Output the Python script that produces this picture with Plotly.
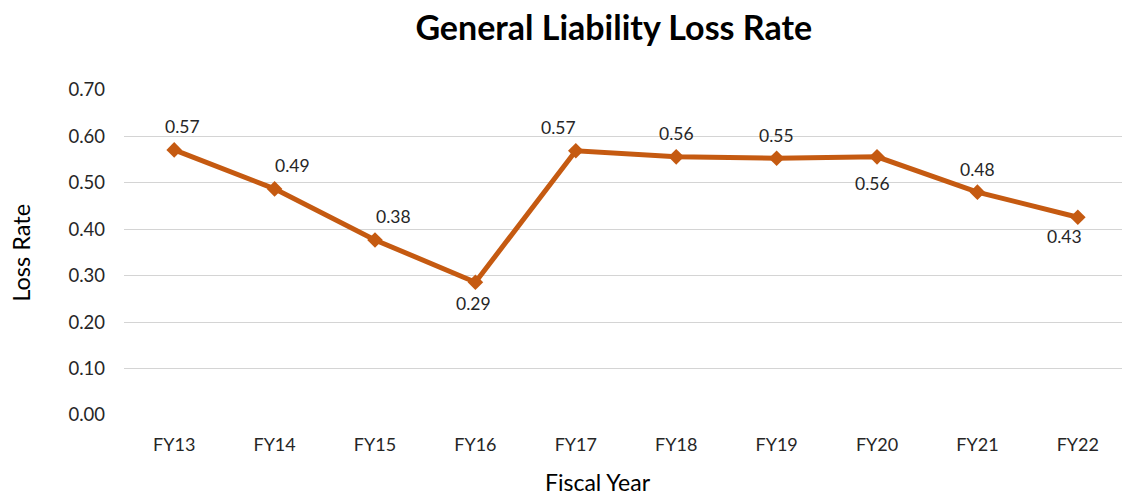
import plotly.graph_objects as go

categories = ["FY13", "FY14", "FY15", "FY16", "FY17", "FY18", "FY19", "FY20", "FY21", "FY22"]
loss_rate = [0.571, 0.487, 0.377, 0.286, 0.569, 0.556, 0.553, 0.556, 0.480, 0.426]
y_ticks = [0.0, 0.1, 0.2, 0.3, 0.4, 0.5, 0.6, 0.7]

# label placement (style): (xshift, yshift) in pixels
label_offsets = [(8, 23), (18, 23), (18, 23), (-2, -21), (-17, 23), (0, 23), (0, 23), (-5, -27), (0, 23), (-13, -19)]

FONT = "Lato, 'Open Sans', sans-serif"
LINE = "#C55A11"

fig = go.Figure()
fig.add_trace(go.Scatter(
    x=categories, y=loss_rate, mode="lines+markers",
    line=dict(color=LINE, width=5),
    marker=dict(symbol="diamond", size=12, color=LINE),
    hoverinfo="skip", showlegend=False,
))

for cat, val, (dx, dy) in zip(categories, loss_rate, label_offsets):
    fig.add_annotation(x=cat, y=val, text=f"{val:.2f}", showarrow=False,
                       xshift=dx, yshift=dy,
                       font=dict(family=FONT, size=17.5, color="#262626"))

# axis titles as annotations for precise placement
fig.add_annotation(text="Fiscal Year", xref="paper", yref="paper", x=0.475, y=-0.205,
                   xanchor="center", yanchor="middle", showarrow=False,
                   font=dict(family=FONT, size=23, color="black"))
fig.add_annotation(text="Loss Rate", xref="paper", yref="paper", x=-0.104, y=0.5,
                   xanchor="center", yanchor="middle", showarrow=False, textangle=-90,
                   font=dict(family=FONT, size=23.5, color="black"))

fig.update_layout(
    width=1122, height=497,
    margin=dict(l=124, r=0, t=90, b=82),
    paper_bgcolor="white", plot_bgcolor="white",
    font=dict(family=FONT, color="#262626"),
    title=dict(text="<b>General Liability Loss Rate</b>", x=0.547, xanchor="center",
               y=0.944, yanchor="middle", font=dict(family=FONT, size=34, color="black")),
    xaxis=dict(
        type="category", range=[-0.5, 9.44], showgrid=False, showline=False,
        zeroline=False, ticks="", automargin=False, ticklabelstandoff=17,
        tickfont=dict(size=18, color="#262626"),
    ),
    yaxis=dict(
        range=[0, 0.7], tickvals=y_ticks, tickformat=".2f",
        showgrid=True, gridcolor="#D4D4D4", gridwidth=1, zeroline=False,
        showline=False, ticks="", automargin=False, ticklabelstandoff=18,
        tickfont=dict(size=18.5, color="#262626"),
    ),
)

fig.write_html("out.html", config={"displayModeBar": False},
               post_script="document.body.style.margin='0';document.body.style.overflow='hidden';")
